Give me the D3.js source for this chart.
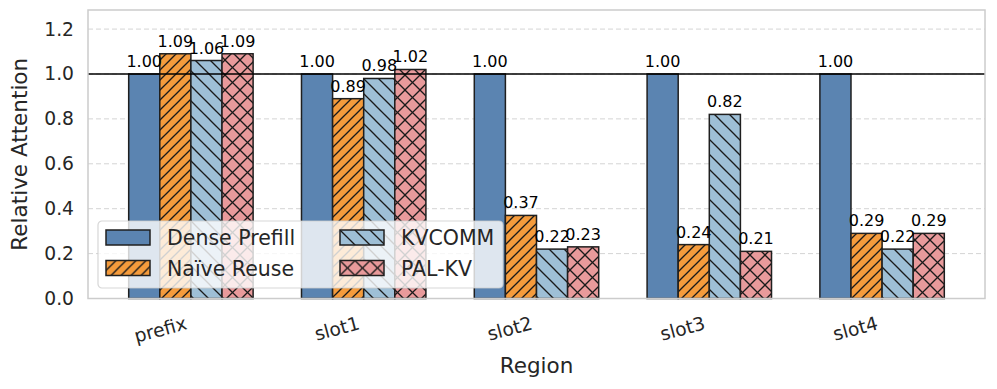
<!DOCTYPE html>
<html>
<head>
<meta charset="utf-8">
<script src="https://cdn.jsdelivr.net/npm/d3@7"></script>
<style>
  body { margin: 0; background: #fff; }
  text { font-family: "DejaVu Sans", sans-serif; }
</style>
</head>
<body>
<script>
// data
const regions = ['prefix', 'slot1', 'slot2', 'slot3', 'slot4']
const methods = ['Dense Prefill', 'Naïve Reuse', 'KVCOMM', 'PAL-KV']
const densePrefill = [1.00, 1.00, 1.00, 1.00, 1.00]
const naiveReuse = [1.09, 0.89, 0.37, 0.24, 0.29]
const kvcomm = [1.06, 0.98, 0.22, 0.82, 0.22]
const palkv = [1.09, 1.02, 0.23, 0.21, 0.29]
const yTicks = [0.0, 0.2, 0.4, 0.6, 0.8, 1.0, 1.2]

const seriesValues = [densePrefill, naiveReuse, kvcomm, palkv]
const colors = ['#5b84b1', '#f49b3c', '#9ebfd6', '#e89a9b']
const hatches = [null, 'fwd', 'back', 'cross']

const frame = { width: 997, height: 389, left: 88, right: 985, top: 10, bottom: 298.5 }

const svg = d3.select('body').append('svg')
  .attr('width', frame.width)
  .attr('height', frame.height)

// hatch patterns
const defs = svg.append('defs')
function makePattern(id, kind, color, size) {
  const p = defs.append('pattern')
    .attr('id', id)
    .attr('patternUnits', 'userSpaceOnUse')
    .attr('width', size).attr('height', size)
  p.append('rect').attr('width', size).attr('height', size).attr('fill', color)
  const line = (x1, y1, x2, y2) => p.append('line')
    .attr('x1', x1).attr('y1', y1).attr('x2', x2).attr('y2', y2)
    .attr('stroke', '#1a1a1a').attr('stroke-width', 1.3)
  if (kind === 'fwd' || kind === 'cross') {
    line(0, size, size, 0)
    line(-size, size, size, -size) // corners
    line(0, 2 * size, 2 * size, 0)
  }
  if (kind === 'back' || kind === 'cross') {
    line(0, 0, size, size)
    line(-size, 0, size, 2 * size)
    line(0, -size, 2 * size, size)
  }
}
makePattern('h1', 'fwd', colors[1], 10)
makePattern('h2', 'back', colors[2], 15)
makePattern('h3', 'cross', colors[3], 15)
const fillOf = i => hatches[i] ? `url(#h${i})` : colors[i]

// scales
const x = d3.scaleBand()
  .domain(regions)
  .range([frame.left, frame.right])
  .paddingInner(0.28)
  .paddingOuter(0.2355)
const xSub = d3.scaleBand()
  .domain(methods)
  .range([0, x.bandwidth()])
const y = d3.scaleLinear()
  .domain([0, 1.285])
  .range([frame.bottom, frame.top])

// grid
svg.append('g')
  .selectAll('line')
  .data(yTicks.slice(1))
  .join('line')
  .attr('x1', frame.left).attr('x2', frame.right)
  .attr('y1', d => y(d)).attr('y2', d => y(d))
  .attr('stroke', '#d4d4d4')
  .attr('stroke-width', 1)
  .attr('stroke-dasharray', '5,3')

// bars
methods.forEach((m, i) => {
  svg.append('g')
    .selectAll('rect')
    .data(seriesValues[i])
    .join('rect')
    .attr('x', (d, j) => x(regions[j]) + xSub(m))
    .attr('y', d => y(d))
    .attr('width', xSub.bandwidth())
    .attr('height', d => y(0) - y(d))
    .attr('fill', fillOf(i))
    .attr('stroke', '#1f1f1f')
    .attr('stroke-width', 1.5)
})

// reference line at 1.0
svg.append('line')
  .attr('x1', frame.left).attr('x2', frame.right)
  .attr('y1', y(1)).attr('y2', y(1))
  .attr('stroke', '#000')
  .attr('stroke-width', 1.7)

// bar labels
methods.forEach((m, i) => {
  svg.append('g')
    .selectAll('text')
    .data(seriesValues[i])
    .join('text')
    .attr('x', (d, j) => x(regions[j]) + xSub(m) + xSub.bandwidth() / 2)
    .attr('y', d => y(d) - 7)
    .attr('text-anchor', 'middle')
    .attr('font-size', 16)
    .attr('fill', '#000')
    .text(d => d.toFixed(2))
})

// frame
svg.append('rect')
  .attr('x', frame.left).attr('y', frame.top)
  .attr('width', frame.right - frame.left)
  .attr('height', frame.bottom - frame.top)
  .attr('fill', 'none')
  .attr('stroke', '#cccccc')
  .attr('stroke-width', 1.5)

// y axis
const yAxis = d3.axisLeft(y)
  .tickValues(yTicks)
  .tickFormat(d3.format('.1f'))
  .tickSize(0)
  .tickPadding(14)
svg.append('g')
  .attr('transform', `translate(${frame.left},0)`)
  .call(yAxis)
  .call(g => g.select('.domain').remove())
  .call(g => g.selectAll('text')
    .attr('font-size', 18.7)
    .attr('font-family', 'DejaVu Sans')
    .attr('fill', '#262626'))

// x axis
svg.append('g')
  .selectAll('text')
  .data(regions)
  .join('text')
  .attr('transform', d => `translate(${x(d) + x.bandwidth() / 2 - 3},329) rotate(-15)`)
  .attr('text-anchor', 'end')
  .attr('font-size', 18.7)
  .attr('fill', '#262626')
  .text(d => d)

// axis titles
svg.append('text')
  .attr('x', (frame.left + frame.right) / 2)
  .attr('y', 373)
  .attr('text-anchor', 'middle')
  .attr('font-size', 21.5)
  .attr('fill', '#262626')
  .text('Region')
svg.append('text')
  .attr('transform', `translate(27,${(frame.top + frame.bottom) / 2}) rotate(-90)`)
  .attr('text-anchor', 'middle')
  .attr('font-size', 21.5)
  .attr('fill', '#262626')
  .text('Relative Attention')

// legend
const legend = svg.append('g').attr('transform', 'translate(98,221)')
legend.append('rect')
  .attr('width', 405).attr('height', 67)
  .attr('rx', 4).attr('ry', 4)
  .attr('fill', 'rgba(255,255,255,0.8)')
  .attr('stroke', 'rgba(204,204,204,0.8)')
  .attr('stroke-width', 1.2)
const legendPos = [[0, 0], [0, 1], [1, 0], [1, 1]]
methods.forEach((m, i) => {
  const [col, row] = legendPos[i]
  const g = legend.append('g')
    .attr('transform', `translate(${8 + col * 234},${9 + row * 30.5})`)
  g.append('rect')
    .attr('width', 44).attr('height', 15)
    .attr('fill', fillOf(i))
    .attr('stroke', '#1f1f1f')
    .attr('stroke-width', 1.5)
  g.append('text')
    .attr('x', 61).attr('y', 15)
    .attr('font-size', 20.5)
    .attr('fill', '#262626')
    .text(m)
})
</script>
</body>
</html>
